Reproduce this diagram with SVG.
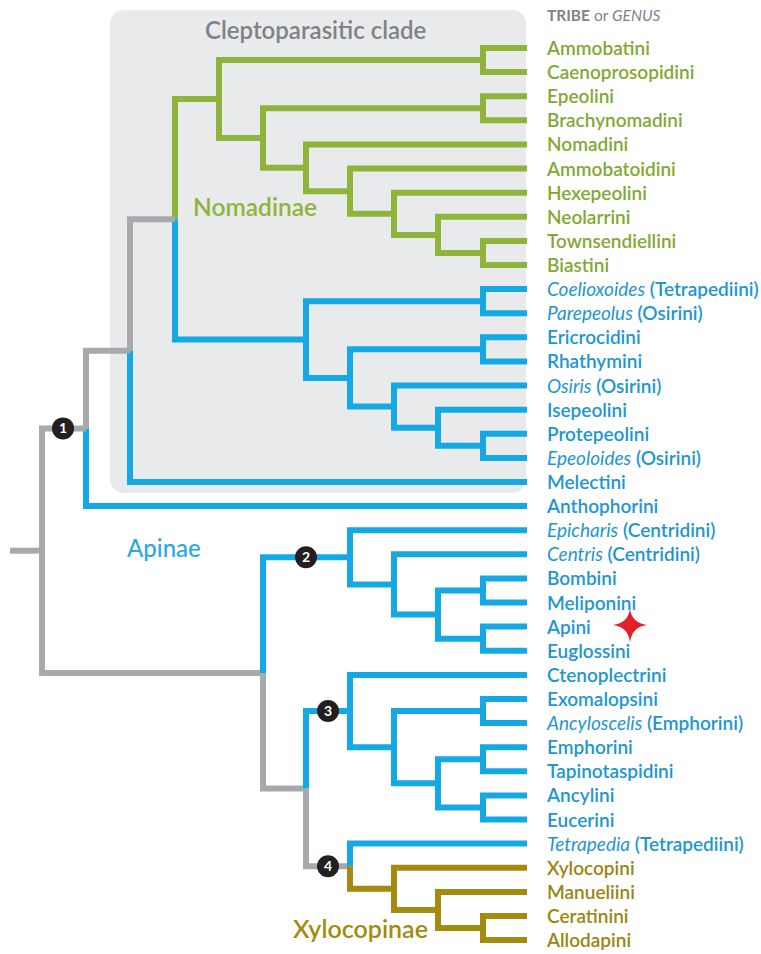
<svg xmlns="http://www.w3.org/2000/svg" width="761" height="954" viewBox="0 0 761 954">
<style>
.br{fill:none;stroke-width:6;stroke-linejoin:miter;stroke-linecap:butt}
.g{stroke:#8fb43c}.b{stroke:#14a9e4}.y{stroke:#a7a9ac}.o{stroke:#a38b0f}
text{font-family:Lato,"Liberation Sans",sans-serif}
.lab{font-size:19px;font-weight:600}
.tg{fill:#84a834}.tb{fill:#1e96d2}.to{fill:#9c8512}
.it{font-style:italic;font-weight:400}
.num{fill:#fff;font-size:14px;font-weight:700;text-anchor:middle}
</style>
<rect id="clade-box" x="110" y="10" width="416" height="483" rx="14" fill="#e9eaeb"/>
<text x="205" y="39" font-size="24" font-weight="600" fill="#808285">Cleptoparasitic clade</text>
<text x="547" y="21" font-size="15.5" fill="#808285"><tspan font-weight="700">TRIBE</tspan> or <tspan font-style="italic">GENUS</tspan></text>
<g id="connectors">
<path class="br g" d="M527 48 H483 V72.1 H527"/>
<path class="br g" d="M527 96.2 H483 V120.3 H527"/>
<path class="br g" d="M527 240.9 H483 V265 H527"/>
<path class="br g" d="M527 216.8 H438 V252.95 H483"/>
<path class="br g" d="M527 192.7 H394 V234.9 H438"/>
<path class="br g" d="M527 168.6 H350 V213.8 H394"/>
<path class="br g" d="M527 144.4 H306 V191.2 H350"/>
<path class="br g" d="M483 108.25 H263 V167.8 H306"/>
<path class="br g" d="M483 60.05 H219 V138 H263"/>
<path class="br g" d="M219 99 H175 V219.3"/>
<path class="br b" d="M175 219.3 V339.6 H306"/>
<path class="br b" d="M527 289.1 H483 V313.2 H527"/>
<path class="br b" d="M527 337.3 H483 V361.4 H527"/>
<path class="br b" d="M527 433.8 H483 V457.9 H527"/>
<path class="br b" d="M527 409.7 H438 V445.85 H483"/>
<path class="br b" d="M527 385.5 H394 V427.8 H438"/>
<path class="br b" d="M483 349.35 H350 V406.6 H394"/>
<path class="br b" d="M483 301.15 H306 V378 H350"/>
<path class="br y" d="M175 219.3 H130 V350.7"/>
<path class="br b" d="M130 350.7 V482 H527"/>
<path class="br y" d="M130 350.7 H86 V428.4"/>
<path class="br b" d="M86 428.4 V506.1 H527"/>
<path class="br y" d="M86 428.4 H42 V672.95 H263"/>
<path class="br y" d="M10 550.7 H42"/>
<path class="br b" d="M527 578.4 H483 V602.5 H527"/>
<path class="br b" d="M527 626.6 H483 V650.8 H527"/>
<path class="br b" d="M483 590.45 H438 V638.7 H483"/>
<path class="br b" d="M527 554.3 H394 V614.6 H438"/>
<path class="br b" d="M527 530.2 H350 V584.45 H394"/>
<path class="br b" d="M350 557.3 H263 V672.95"/>
<path class="br y" d="M263 672.95 V788.6 H306"/>
<path class="br b" d="M527 699 H483 V723.1 H527"/>
<path class="br b" d="M527 747.2 H483 V771.3 H527"/>
<path class="br b" d="M527 795.4 H483 V819.5 H527"/>
<path class="br b" d="M483 759.25 H438 V807.45 H483"/>
<path class="br b" d="M483 711.05 H394 V783.35 H438"/>
<path class="br b" d="M527 674.9 H350 V747.2 H394"/>
<path class="br b" d="M350 711.05 H306 V788.6"/>
<path class="br y" d="M306 788.6 V866.2 H350"/>
<path class="br b" d="M350 866.2 V843.6 H527"/>
<path class="br o" d="M350 866.2 V888.85 H394"/>
<path class="br o" d="M527 916 H483 V940.1 H527"/>
<path class="br o" d="M527 891.9 H438 V928.05 H483"/>
<path class="br o" d="M527 867.7 H394 V910 H438"/>
</g>
<g id="node-1"><circle cx="63" cy="428.4" r="11" fill="#231f20"/><text class="num" x="63" y="433.4">1</text></g>
<g id="node-2"><circle cx="306" cy="557.3" r="11" fill="#231f20"/><text class="num" x="306" y="562.3">2</text></g>
<g id="node-3"><circle cx="328" cy="711.05" r="11" fill="#231f20"/><text class="num" x="328" y="716.05">3</text></g>
<g id="node-4"><circle cx="328" cy="866.2" r="11" fill="#231f20"/><text class="num" x="328" y="871.2">4</text></g>
<g id="group-labels">
<text x="193" y="216" font-size="24.5" font-weight="600" fill="#8fb43c">Nomadinae</text>
<text x="127" y="557" font-size="24" font-weight="500" fill="#29a9e1">Apinae</text>
<text x="293" y="938" font-size="25" font-weight="600" fill="#a38b0f">Xylocopinae</text>
</g>
<g id="leaves" class="lab">
<text class="tg" x="547" y="55">Ammobatini</text>
<text class="tg" x="547" y="79.1">Caenoprosopidini</text>
<text class="tg" x="547" y="103.2">Epeolini</text>
<text class="tg" x="547" y="127.3">Brachynomadini</text>
<text class="tg" x="547" y="151.4">Nomadini</text>
<text class="tg" x="547" y="175.6">Ammobatoidini</text>
<text class="tg" x="547" y="199.7">Hexepeolini</text>
<text class="tg" x="547" y="223.8">Neolarrini</text>
<text class="tg" x="547" y="247.9">Townsendiellini</text>
<text class="tg" x="547" y="272">Biastini</text>
<text class="tb" x="547" y="296.1"><tspan class="it">Coelioxoides</tspan> (Tetrapediini)</text>
<text class="tb" x="547" y="320.2"><tspan class="it">Parepeolus</tspan> (Osirini)</text>
<text class="tb" x="547" y="344.3">Ericrocidini</text>
<text class="tb" x="547" y="368.4">Rhathymini</text>
<text class="tb" x="547" y="392.5"><tspan class="it">Osiris</tspan> (Osirini)</text>
<text class="tb" x="547" y="416.7">Isepeolini</text>
<text class="tb" x="547" y="440.8">Protepeolini</text>
<text class="tb" x="547" y="464.9"><tspan class="it">Epeoloides</tspan> (Osirini)</text>
<text class="tb" x="547" y="489">Melectini</text>
<text class="tb" x="547" y="513.1">Anthophorini</text>
<text class="tb" x="547" y="537.2"><tspan class="it">Epicharis</tspan> (Centridini)</text>
<text class="tb" x="547" y="561.3"><tspan class="it">Centris</tspan> (Centridini)</text>
<text class="tb" x="547" y="585.4">Bombini</text>
<text class="tb" x="547" y="609.5">Meliponini</text>
<text class="tb" x="547" y="633.6">Apini</text>
<text class="tb" x="547" y="657.8">Euglossini</text>
<text class="tb" x="547" y="681.9">Ctenoplectrini</text>
<text class="tb" x="547" y="706">Exomalopsini</text>
<text class="tb" x="547" y="730.1"><tspan class="it">Ancyloscelis</tspan> (Emphorini)</text>
<text class="tb" x="547" y="754.2">Emphorini</text>
<text class="tb" x="547" y="778.3">Tapinotaspidini</text>
<text class="tb" x="547" y="802.4">Ancylini</text>
<text class="tb" x="547" y="826.5">Eucerini</text>
<text class="tb" x="547" y="850.6"><tspan class="it">Tetrapedia</tspan> (Tetrapediini)</text>
<text class="to" x="547" y="874.7">Xylocopini</text>
<text class="to" x="547" y="898.9">Manueliini</text>
<text class="to" x="547" y="923">Ceratinini</text>
<text class="to" x="547" y="947.1">Allodapini</text>
</g>
<path id="star" d="M630 609 Q632 623 647 625 Q632 627 630 642 Q628 627 613 625 Q628 623 630 609 Z" fill="#e3202a"/>
</svg>
